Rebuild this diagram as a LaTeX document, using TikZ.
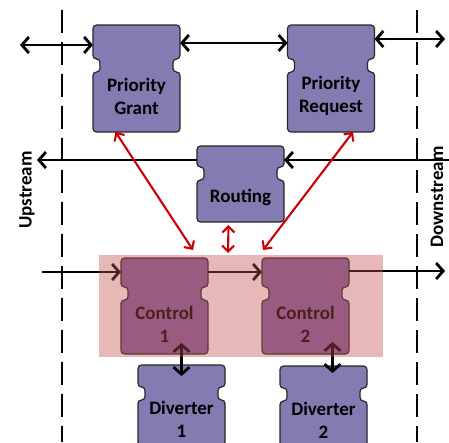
\documentclass[tikz,border=0pt]{standalone}
\usepackage{fontspec}
\setmainfont{Carlito}
\usetikzlibrary{arrows.meta,backgrounds}

\definecolor{tilepurple}{RGB}{130,124,178}
\definecolor{ctrlpurple}{RGB}{128,100,162}
\definecolor{overlayred}{RGB}{192,80,77}
\definecolor{linkred}{RGB}{204,0,0}

% outline of a notched tile round the text node #1
\newcommand{\tileoutline}[4]{%
  \draw[tileline, fill=#2] ([yshift=-#4pt]#1.south west) -- ([yshift=-#4pt]#1.south east) -- (#1.north east)
    -- ++(-7,0) -- ++(0,-13) -- ++(7,0) -- ++(0,-#3) -- ++(-87,0) -- ++(0,#3)
    -- ++(7,0) -- ++(0,13) -- ++(-7,0) -- cycle;}

\begin{document}
\begin{tikzpicture}[x=1pt, y=-1pt,
  tile/.style={minimum width=87pt, inner sep=0pt, outer sep=0pt, align=center,
    font=\bfseries\fontsize{19}{23}\selectfont},
  tileline/.style={draw=black!85, line width=1.2pt, rounded corners=3.5pt},
  flow/.style={line width=2.8pt, -{Straight Barb[length=7pt, width=16pt]}},
  both/.style={line width=2.8pt, {Straight Barb[length=7pt, width=16pt]}-{Straight Barb[length=7pt, width=16pt]}},
  link/.style={line width=2.1pt, linkred, {Straight Barb[length=6pt, width=12pt]}-{Straight Barb[length=6pt, width=12pt]}},
  border/.style={line width=2.8pt, dash pattern=on 23pt off 9pt}]
\useasboundingbox (0,0) rectangle (449,442);
\clip (0,0) rectangle (449,442);

% stream borders
\draw[border] (62,10) -- (62,442);
\draw[border] (417,10) -- (417,442);
\node[rotate=90, font=\bfseries\fontsize{19}{23}\selectfont] (up) at (27,190) {Upstream};
\node[rotate=90, font=\bfseries\fontsize{19}{23}\selectfont] (down) at (437,197) {Downstream};

% tiles
\node[tile, minimum height=48pt] (pg) at (136.5,96) {Priority\\Grant};
\node[tile, minimum height=48pt] (pr) at (331,96) {Priority\\Request};
\node[tile, minimum height=34pt] (rout) at (240.5,197) {Routing};
\node[tile, minimum height=48pt] (c1) at (164.5,324) {Control\\1};
\node[tile, minimum height=48pt] (c2) at (305.5,324) {Control\\2};
\node[tile, minimum height=38pt] (d1) at (181.5,419) {Diverter\\1};
\node[tile, minimum height=38pt] (d2) at (323.5,420) {Diverter\\2};

\begin{scope}[on background layer]
\tileoutline{pg}{tilepurple}{34}{12}
\tileoutline{pr}{tilepurple}{34}{12}
\tileoutline{rout}{tilepurple}{21}{8}
\tileoutline{c1}{ctrlpurple}{29}{6}
\tileoutline{c2}{ctrlpurple}{29}{6}
\tileoutline{d1}{tilepurple}{22}{8}
\tileoutline{d2}{tilepurple}{22}{8}
\end{scope}

% loose ends
\coordinate (gl) at (20,45);
\coordinate (gr) at (0,43);
\coordinate (rr) at (445,39);
\coordinate (mr) at (449,160);
\coordinate (ml) at (37,160);
\coordinate (inl) at (42,272);
\coordinate (outr) at (445,271);

\draw[both] (gl) -- (gl -| pg.west);
\draw[both] (pg.east |- gr) -- (pr.west |- gr);
\draw[both] (pr.east |- rr) -- (rr);
\draw[flow] (mr) -- (rout.east |- mr);
\draw[flow] (rout.west |- mr) -- (ml);
\draw[flow] (inl) -- (c1.west |- inl);
\draw[flow] (c1.east |- inl) -- (c2.west |- inl);
\draw[flow] (c2.east |- outr) -- (outr);
\draw[both] ([xshift=17pt, yshift=5pt]c1.south) -- ++(0,33);
\draw[both] ([xshift=27pt, yshift=6pt]c2.south) -- ++(0,31);

% control group
\node[minimum width=284pt, minimum height=102pt, outer sep=0pt, fill=overlayred, fill opacity=0.4] (grp) at (241,306) {};

\draw[link] ([xshift=-21pt, yshift=-12pt]pg.south) -- ([xshift=-48pt, yshift=5pt]grp.north);
\draw[link] ([xshift=22pt, yshift=-12pt]pr.south) -- ([xshift=22pt, yshift=5pt]grp.north);
\draw[link] ([xshift=-12pt, yshift=-11pt]rout.south) -- ([xshift=-13pt, yshift=2pt]grp.north);
\end{tikzpicture}
\end{document}
